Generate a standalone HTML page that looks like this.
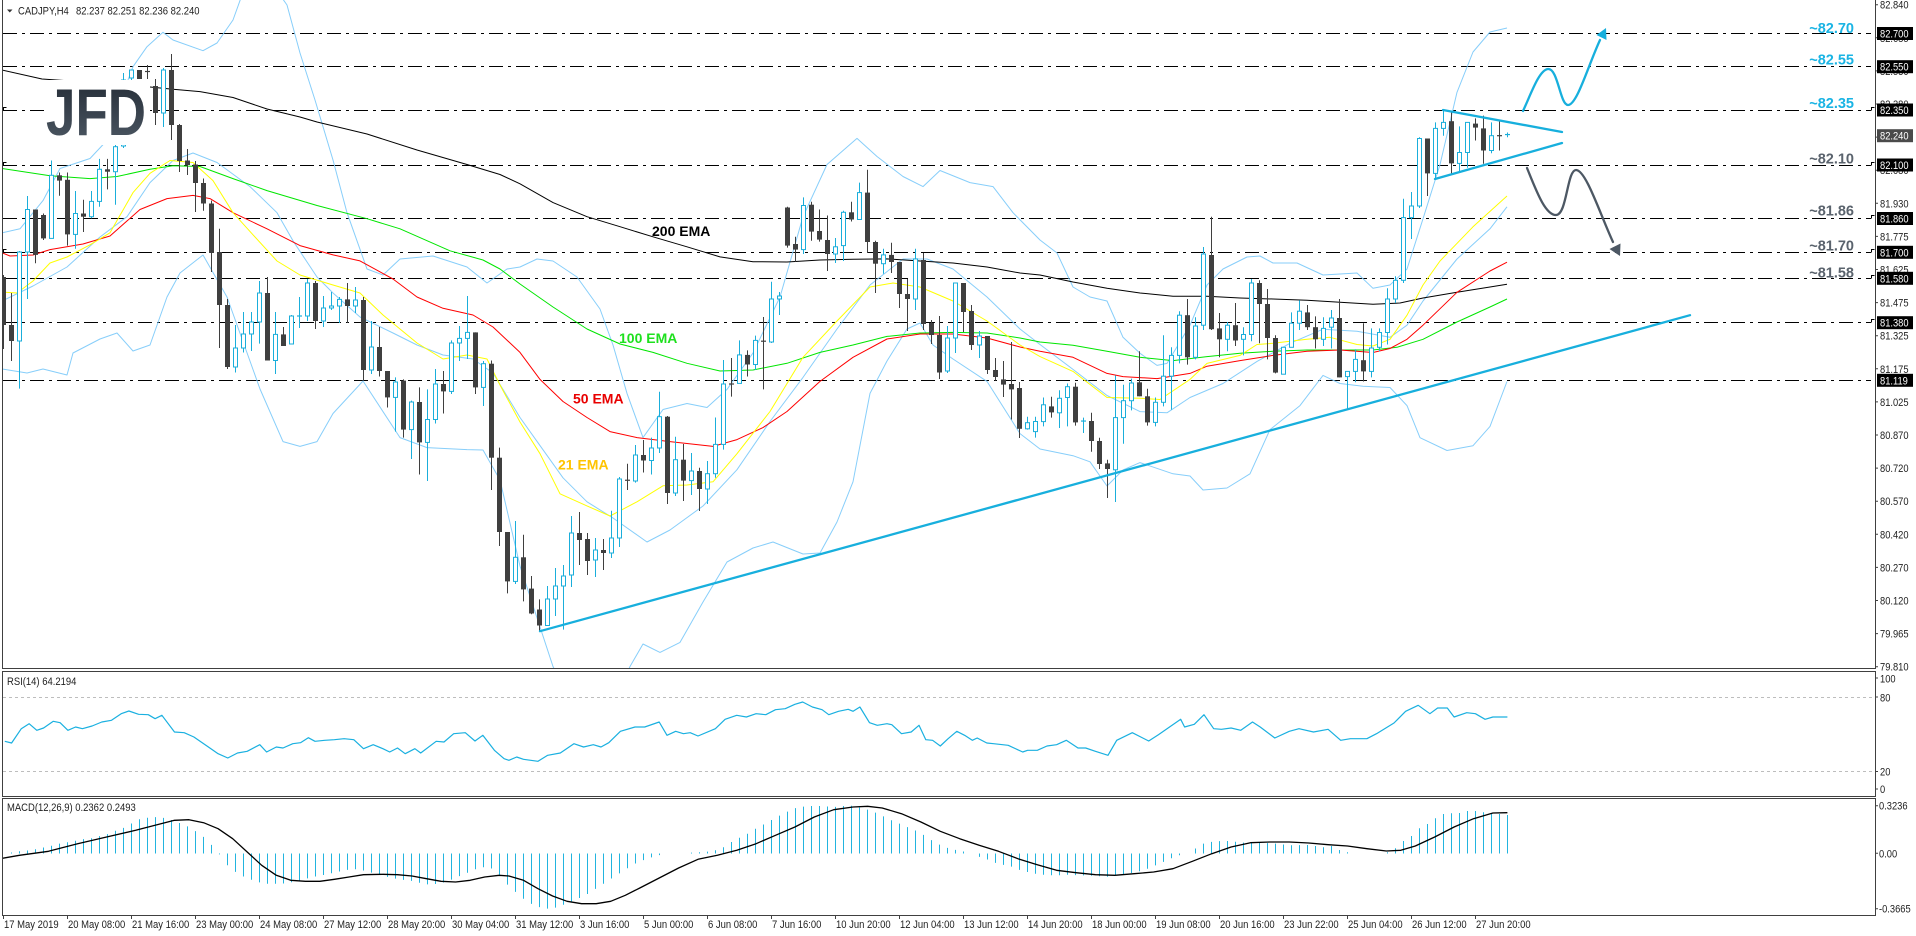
<!DOCTYPE html>
<html><head><meta charset="utf-8">
<style>
html,body{margin:0;padding:0;background:#fff;}
svg{display:block;font-family:"Liberation Sans",Arial,sans-serif;}
.ax{font-size:11px;fill:#222;}
.bx{font-size:11px;fill:#fff;}
.lv{font-size:14.5px;font-weight:bold;}
.em{font-size:14px;font-weight:bold;}
</style></head>
<body>
<svg id="s" width="1916" height="936" viewBox="0 0 1916 936" xmlns="http://www.w3.org/2000/svg">
<defs>
<clipPath id="cm"><rect x="3" y="0" width="1872" height="668"/></clipPath>
<clipPath id="cr"><rect x="3" y="672" width="1872" height="124"/></clipPath>
<clipPath id="cd"><rect x="3" y="799" width="1872" height="116"/></clipPath>
<linearGradient id="lg" x1="0" y1="0" x2="0" y2="1"><stop offset="0" stop-color="#222a34"/><stop offset="1" stop-color="#4f5a66"/></linearGradient>
</defs>
<rect width="1916" height="936" fill="#fff"/>

<!-- MAIN PANEL -->
<g clip-path="url(#cm)">
 <g stroke="#000" stroke-width="1" stroke-dasharray="14 5 3 5" fill="none">
  <line x1="3" x2="1871" y1="33.5" y2="33.5"/>
  <line x1="3" x2="1871" y1="66.5" y2="66.5"/>
  <line x1="3" x2="1871" y1="110.5" y2="110.5"/>
  <line x1="3" x2="1871" y1="165.5" y2="165.5"/>
  <line x1="3" x2="1871" y1="218.5" y2="218.5"/>
  <line x1="3" x2="1871" y1="252.5" y2="252.5"/>
  <line x1="3" x2="1871" y1="278.5" y2="278.5"/>
  <line x1="3" x2="1871" y1="322.5" y2="322.5"/>
  <line x1="3" x2="1871" y1="380.5" y2="380.5"/>
 </g>
 <g fill="none" stroke="#000" stroke-width="1">
  <path d="M1871.5,110.5 v-3 h3 M1871.5,165.5 v-3 h3 M1871.5,218.5 v-3 h3 M1871.5,252.5 v-3 h3 M1871.5,278.5 v-3 h3 M1871.5,322.5 v-3 h3 M3.5,110.5 v-3 h3 M3.5,165.5 v-3 h3 M3.5,252.5 v-3 h3"/>
 </g>
 <g fill="none" stroke-width="1" stroke-linejoin="round">
  <polyline stroke="#87cefa" points="2,232.8 20,228.8 43,200.6 60,168.5 90,158.5 107,140.4 128,80 133,66.7 147,46.7 163,32.3 173,40 203,50.7 217,43 233,20 242,-5 262,-40 280,-5 287,5 300,53 315,100 333,160 347,212.7 367,269 383,275 400,259 433,256 467,267 487,283 507,269 520,267 537,259 553,261 577,277 600,309 613,345 627,393.4 643,437.6 663,409.5 687,403.5 707,407.5 727,389.4 753,353 780,297 803,216.7 827,164.5 857,138.4 877,156.5 903,176.5 923,186.6 940,170.5 970,182.6 993,186.6 1013,212.7 1040,240 1057,253 1073,287 1090,297 1107,301 1123,337.3 1140,353.3 1157,365.4 1167,363.4 1190,325.2 1207,285 1223,269 1247,257 1260,256 1273,263 1297,263 1323,275 1357,273 1373,288.3 1390,285 1407,269 1423,218.8 1440,164.6 1457,92.3 1473,52 1490,32 1507,28"/>
  <polyline stroke="#87cefa" points="2,301 33,286 67,267 100,237 127,216.7 150,182.6 173,160.5 193,153 217,162.5 250,186.6 277,212.7 293,240.8 317,277 333,293 360,317 393,333 417,345 443,355 473,359 493,373 520,417.5 540,445.6 563,477.8 587,501.8 613,518 647,542 670,530 703,506 737,469.7 770,421.5 803,377.4 837,329 870,285 903,259 927,259 953,269 987,297 1020,329 1040,344.5 1073,369.4 1107,395.5 1140,411.6 1167,412.8 1190,397.5 1223,383.5 1257,361.4 1290,343.3 1323,329.2 1357,331.2 1390,337.3 1407,325.2 1423,301 1457,259 1490,228.8 1507,206.8"/>
  <polyline stroke="#87cefa" points="2,369 27,373 43,369 67,375 73,353 100,339 117,333 133,351 150,345 167,297 180,273 203,255 227,297 260,389 283,441.6 300,446.4 317,441.6 333,413.5 363,381 400,437.6 427,447.6 467,449.6 483,450 500,480 520,566 553,666.5 570,700 615,700 630,666.5 643,644 660,652.4 680,642.4 703,602 727,562 753,548 773,542 803,554 820,553 837,522 853,481.8 870,393.4 887,361 907,329 920,323 933,345 953,359 987,381.4 1020,433.6 1040,449 1073,455.7 1090,461.8 1107,486 1123,470 1140,462.6 1173,473.8 1190,476 1203,490 1227,488 1250,473.8 1270,429.6 1300,405.6 1323,375.4 1340,383.5 1363,386.3 1390,387.5 1407,405.6 1420,437.7 1447,450.5 1473,445.7 1490,426.4 1507,381.5"/>
  <polyline stroke="#000" points="2,70 42,79 100,83 150,87 173,89.3 200,91.6 233,97.5 267,109 300,117 317,122 367,134 417,150 467,164.5 500,174.5 520,183.8 553,202.6 587,216.7 620,226.7 653,236.8 687,246.8 720,256.9 753,261.7 787,262 820,260 853,259.3 887,258.9 920,261 953,263 987,267 1020,273 1040,275 1073,282 1107,288.3 1140,293 1173,296.3 1207,296.3 1240,298 1273,299 1307,300.3 1340,302.3 1373,304.3 1400,303 1423,298 1457,292.3 1490,287 1507,284.3"/>
  <polyline stroke="#00e600" points="2,168.5 50,175.7 90,178.6 117,176.5 150,169.3 173,165.7 200,166.5 233,178.6 267,190.6 317,205.5 367,218.7 400,228.8 450,250.8 483,260 500,269 520,284 553,307 587,329 620,344 653,352.4 687,363.3 720,371 753,370 787,363.3 820,352.4 853,345 887,336.4 920,333 953,332.4 987,333 1020,338 1040,342 1073,345.3 1107,351.3 1140,357.3 1173,360.6 1207,356.6 1240,353.3 1273,351.3 1307,350 1340,350 1373,350 1397,347.3 1423,339.3 1457,322 1490,307 1507,299"/>
  <polyline stroke="#ff0000" points="2,252.8 10,256 33,255 50,249.6 83,244 110,236 140,209.5 167,198.6 193,195.4 210,198.6 233,212.7 267,228.8 300,245.6 333,254.9 360,260.9 393,279 417,297 443,308.3 473,315 493,327 520,352.4 540,379.4 563,401.5 587,417.5 610,431.6 637,437.6 670,441.6 713,446.4 737,439.6 763,427.6 787,411.5 820,381.4 853,357.3 887,339 920,334 953,334 987,338 1020,347 1040,351.3 1073,357.3 1107,373.4 1123,376.6 1157,378.6 1190,373.4 1207,366.2 1240,360.6 1273,355.4 1307,351.3 1340,350 1373,352.5 1390,348.5 1407,339.3 1423,325.2 1457,292.3 1490,271 1507,262.2"/>
  <polyline stroke="#ffff00" points="2,292 17,293 33,281 50,263 67,257 90,244.8 110,232.8 133,192.6 150,173.3 170,160.5 193,162.5 213,180.6 233,212.7 253,234.8 277,261 300,275 333,285 360,293 383,315 417,343 443,359 467,355 487,359 500,385 520,422 540,453.7 560,493.8 587,505.9 610,516 637,501.8 663,485.8 687,485 713,481.8 737,453.7 770,411.5 803,357.3 837,321 870,287 893,283 920,287 953,301 987,321 1020,345 1040,356.6 1073,371.4 1107,397.5 1140,398.3 1160,399.5 1190,379.4 1207,363.4 1240,355.4 1257,344.5 1273,343.3 1307,339.3 1330,337.3 1357,344.5 1373,346 1390,339.3 1407,315.2 1423,285 1440,261 1473,226.8 1507,196"/>
 </g>
 <g id="cdl"></g>
 <g stroke="#17afdd" stroke-width="2.3" fill="none" stroke-linecap="round">
  <line x1="540" y1="631.2" x2="1690" y2="315.2"/>
  <line x1="1443" y1="110" x2="1562" y2="132"/>
  <line x1="1435" y1="179" x2="1562" y2="143"/>
  <path d="M1523,111 C1531,94 1539,70 1548,69 C1558,68 1560,105 1568,105 C1577,105 1588,66 1600,40"/>
 </g>
 <polygon points="1606,28 1606.5,40 1596.5,35" fill="#17afdd"/>
 <g stroke="#4d5864" stroke-width="2.3" fill="none" stroke-linecap="round">
  <path d="M1527,168 C1536,190 1545,215 1556,215 C1567,215 1567,170 1576,170 C1586,170 1600,214 1613,242"/>
 </g>
 <polygon points="1620,256 1620.5,243.5 1609.5,249" fill="#4d5864"/>
 <rect x="44" y="80" width="106" height="65" fill="#fff"/>
 <text x="46" y="135" font-size="66" font-weight="bold" textLength="100" lengthAdjust="spacingAndGlyphs" fill="url(#lg)">JFD</text>
</g>

<!-- EMA labels -->
<text class="em" x="652" y="236" fill="#000">200 EMA</text>
<text class="em" x="619" y="343" fill="#1ee01e">100 EMA</text>
<text class="em" x="573" y="403.5" fill="#e80000">50 EMA</text>
<text class="em" x="558" y="469.5" fill="#ffc400">21 EMA</text>

<!-- level labels -->
<g class="lv" text-anchor="end">
 <text x="1854" y="33" fill="#1ab4e4">~82.70</text>
 <text x="1854" y="64.5" fill="#1ab4e4">~82.55</text>
 <text x="1854" y="108" fill="#1ab4e4">~82.35</text>
 <text x="1854" y="163.5" fill="#5a636d">~82.10</text>
 <text x="1854" y="215.5" fill="#5a636d">~81.86</text>
 <text x="1854" y="250.5" fill="#5a636d">~81.70</text>
 <text x="1854" y="277.5" fill="#5a636d">~81.58</text>
</g>

<!-- title -->
<polygon points="7,9.5 12.5,9.5 9.75,12.5" fill="#333"/>
<text class="ax" transform="translate(18,14.7) scale(0.86,1)">CADJPY,H4</text>
<text class="ax" transform="translate(76,14.7) scale(0.86,1)">82.237 82.251 82.236 82.240</text>

<!-- frames -->
<g fill="none" stroke="#404040" stroke-width="1">
 <path d="M2.5,0 V668.5 H1875.5 V0"/>
 <rect x="2.5" y="671.5" width="1873" height="125"/>
 <rect x="2.5" y="798.5" width="1873" height="117"/>
</g>

<!-- right price axis -->
<g stroke="#404040" stroke-width="1">
 <path d="M1875,4.7h3M1875,37.8h3M1875,70.9h3M1875,104h3M1875,137.1h3M1875,170.2h3M1875,203.3h3M1875,236.4h3M1875,269.5h3M1875,302.6h3M1875,335.7h3M1875,368.8h3M1875,401.9h3M1875,435h3M1875,468.1h3M1875,501.2h3M1875,534.3h3M1875,567.4h3M1875,600.5h3M1875,633.6h3M1875,666.7h3M1875,678h3M1875,697h3M1875,771.5h3M1875,789h3M1875,805.7h3M1875,853.3h3M1875,908.7h3"/>
</g>
<g class="ax">
 <text transform="translate(1880,8.7) scale(0.85,1)">82.840</text>
 <text transform="translate(1880,41.8) scale(0.85,1)">82.685</text>
 <text transform="translate(1880,74.9) scale(0.85,1)">82.530</text>
 <text transform="translate(1880,108) scale(0.85,1)">82.380</text>
 <text transform="translate(1880,141.1) scale(0.85,1)">82.235</text>
 <text transform="translate(1880,174.2) scale(0.85,1)">82.080</text>
 <text transform="translate(1880,207.3) scale(0.85,1)">81.930</text>
 <text transform="translate(1880,240.4) scale(0.85,1)">81.775</text>
 <text transform="translate(1880,273.5) scale(0.85,1)">81.625</text>
 <text transform="translate(1880,306.6) scale(0.85,1)">81.475</text>
 <text transform="translate(1880,339.7) scale(0.85,1)">81.325</text>
 <text transform="translate(1880,372.8) scale(0.85,1)">81.175</text>
 <text transform="translate(1880,405.9) scale(0.85,1)">81.025</text>
 <text transform="translate(1880,439) scale(0.85,1)">80.870</text>
 <text transform="translate(1880,472.1) scale(0.85,1)">80.720</text>
 <text transform="translate(1880,505.2) scale(0.85,1)">80.570</text>
 <text transform="translate(1880,538.3) scale(0.85,1)">80.420</text>
 <text transform="translate(1880,571.4) scale(0.85,1)">80.270</text>
 <text transform="translate(1880,604.5) scale(0.85,1)">80.120</text>
 <text transform="translate(1880,637.6) scale(0.85,1)">79.965</text>
 <text transform="translate(1880,670.7) scale(0.85,1)">79.810</text>
 <text transform="translate(1880,682.3) scale(0.85,1)">100</text>
 <text transform="translate(1880,701.3) scale(0.85,1)">80</text>
 <text transform="translate(1880,775.7) scale(0.85,1)">20</text>
 <text transform="translate(1880,793) scale(0.85,1)">0</text>
 <text transform="translate(1879,809.7) scale(0.85,1)">0.3236</text>
 <text transform="translate(1879,857.3) scale(0.85,1)">0.00</text>
 <text transform="translate(1879,912.7) scale(0.85,1)">-0.3665</text>
</g>
<g>
 <rect x="1877" y="27" width="36" height="13" fill="#000"/>
 <rect x="1877" y="60.2" width="36" height="13" fill="#000"/>
 <rect x="1877" y="103.5" width="36" height="13" fill="#000"/>
 <rect x="1877" y="129.2" width="36" height="13" fill="#4a4a4a"/>
 <rect x="1877" y="158.5" width="36" height="13" fill="#000"/>
 <rect x="1877" y="212" width="36" height="13" fill="#000"/>
 <rect x="1877" y="245.8" width="36" height="13" fill="#000"/>
 <rect x="1877" y="271.8" width="36" height="13" fill="#000"/>
 <rect x="1877" y="316.2" width="36" height="13" fill="#000"/>
 <rect x="1877" y="373.8" width="36" height="13" fill="#000"/>
</g>
<g class="bx">
 <text transform="translate(1880,37.3) scale(0.85,1)">82.700</text>
 <text transform="translate(1880,70.7) scale(0.85,1)">82.550</text>
 <text transform="translate(1880,114) scale(0.85,1)">82.350</text>
 <text transform="translate(1880,139.7) scale(0.85,1)">82.240</text>
 <text transform="translate(1880,169) scale(0.85,1)">82.100</text>
 <text transform="translate(1880,222.5) scale(0.85,1)">81.860</text>
 <text transform="translate(1880,256.3) scale(0.85,1)">81.700</text>
 <text transform="translate(1880,282.3) scale(0.85,1)">81.580</text>
 <text transform="translate(1880,326.7) scale(0.85,1)">81.380</text>
 <text transform="translate(1880,384.3) scale(0.85,1)">81.119</text>
</g>

<!-- RSI -->
<g clip-path="url(#cr)">
 <g stroke="#bdbdbd" stroke-width="1" stroke-dasharray="3 3">
  <line x1="3" x2="1873" y1="697.5" y2="697.5"/>
  <line x1="3" x2="1873" y1="771.5" y2="771.5"/>
 </g>
 <polyline fill="none" stroke="#1ab0e0" stroke-width="1.2" stroke-linejoin="round" points="4.8,741.3 11.6,743 21.3,728.7 29.1,723.7 36.8,730.3 43.6,728 53.3,721.3 60.1,722.7 67.9,730.3 75.6,727 82.4,728.7 92.1,726 101.8,722 111.5,720.3 121.2,713.7 128.9,711 138.6,714.3 148.3,714.7 155.1,718.7 161.9,715.3 174.5,732 184.2,732.7 193.9,737 208.4,747 218.1,753.7 227.8,758 237.5,753 247.2,751.3 259.8,744.7 266.6,752 276.3,747 283,748 292.8,743.7 300.5,742.7 308.3,737.7 315,741.3 324.7,740.3 334.4,739.7 344.1,738.7 353.8,739.7 363.5,748.7 373.2,744.7 382.9,748.7 389.7,752 397.5,748 405.2,753.7 414.9,748.7 420.7,753 436.2,741.3 444,742 453.7,733.7 465.3,732.7 475,741 482.8,735.3 494.4,750.3 504.1,758.7 508.9,760.3 516.7,757 523.5,759.3 538,761.3 547.7,755.3 560.3,753 573.9,743.7 583.6,747 593.3,744.7 601,747 608.8,742.7 620.4,731.3 635,727 644.7,727 659.2,722 667,735.3 675.7,731.3 683.4,733.7 690.2,732.7 698,736 715.4,728.7 725.1,719.3 736.7,715.3 746.4,717 756.1,713.7 765.8,714.7 775.5,709.7 785.2,708.7 794.9,704.3 802.7,702 812.4,707 822.1,709.7 828.8,714.7 838.5,711.3 848.2,709.3 853.1,711.3 859.9,707 869.5,722.7 877.3,725.3 887,723.7 891.8,724.7 901.5,733.7 911.2,732 919,725.3 925.8,739.7 932.6,740.3 940.3,746 948.1,738.7 956.8,731.3 964.6,735.3 972.3,740.3 977.2,738 986.8,743 993.6,743.7 1008.2,745.3 1022.7,752 1027.6,750.3 1037.3,750.3 1047,746 1056.6,744.7 1066.3,740.3 1078,748 1085.7,748 1095.4,751.3 1108,755.3 1116.7,740.3 1132.3,732.7 1148.7,741 1158.4,734.7 1168.1,728 1180.7,719.3 1184.6,727 1194.3,724.3 1204,714.7 1213.7,728.7 1221.4,729.3 1231.1,728 1240.8,730.3 1252.5,722 1260.2,727 1274.8,738 1289.3,731.3 1299,728.7 1313.5,732 1328.1,729.3 1340.7,740.3 1350.4,738.7 1366.9,738.7 1376.5,733.7 1394,723 1405.6,711.3 1418.2,705.3 1429.9,713.7 1437.6,708 1447.3,708 1454.1,717 1466.7,712.7 1475.4,713.7 1485.1,719.3 1492.9,717 1507.4,717"/>
</g>
<text class="ax" transform="translate(7,685) scale(0.86,1)">RSI(14) 64.2194</text>

<!-- MACD -->
<g clip-path="url(#cd)">
 <g id="hist" stroke="#22b4df" stroke-width="1"></g>
 <polyline fill="none" stroke="#000" stroke-width="1.3" stroke-linejoin="round" points="0,858.7 19.4,855.3 48.5,851.3 77.6,843.7 106.6,837 135.7,830.3 155.1,825.3 174.5,820.3 189,819.7 203.6,822.7 218.1,828.7 232.7,838.7 247.2,852 261.7,865.3 276.3,875.3 290.8,880.3 305.4,881.3 319.9,881.3 334.4,879.3 349,877 363.5,874.7 382.9,874.3 397.5,874.7 412,876 426.5,878.7 441.1,881.3 455.6,882 470.2,880.3 484.7,877 499.2,875.3 508.9,876 523.5,880.3 538,888.7 552.6,896 567.1,901.3 581.6,903.7 596.2,903.7 610.7,901.3 625.3,895.3 639.8,888 659.2,878 678.6,868 698,859.3 717.4,855.3 736.8,850.3 756.1,843.7 775.5,835.3 794.9,827 814.3,817 833.7,809.7 853.1,807 867.6,806.3 882.2,808 901.5,813.7 920.9,822 940.3,831.3 959.7,838.7 979.1,845.3 998.5,851.3 1017.9,858.7 1037.3,864.7 1056.6,870.3 1076,872.7 1095.4,874.7 1114.8,875.3 1134.2,873.7 1153.6,872 1173,868.7 1192.4,861.3 1211.8,853.7 1231.1,847 1250.5,842.7 1269.9,842 1289.3,842 1308.7,843 1328.1,844.7 1347.5,846 1366.9,848.7 1386.3,851 1400.8,850.3 1415.3,846 1434.7,837 1454.1,827 1473.5,818.7 1492.9,813 1507.4,812.7"/>
</g>
<text class="ax" transform="translate(7,811) scale(0.86,1)">MACD(12,26,9) 0.2362 0.2493</text>

<!-- time axis -->
<g stroke="#404040" stroke-width="1">
 <path d="M3.5,915v4M67.5,915v4M131.5,915v4M195.5,915v4M259.5,915v4M323.5,915v4M387.5,915v4M451.5,915v4M515.5,915v4M579.5,915v4M643.5,915v4M707.5,915v4M771.5,915v4M835.5,915v4M899.5,915v4M963.5,915v4M1027.5,915v4M1091.5,915v4M1155.5,915v4M1219.5,915v4M1283.5,915v4M1347.5,915v4M1411.5,915v4M1475.5,915v4"/>
</g>
<g class="ax">
 <text transform="translate(4,928) scale(0.86,1)">17 May 2019</text>
 <text transform="translate(68,928) scale(0.86,1)">20 May 08:00</text>
 <text transform="translate(132,928) scale(0.86,1)">21 May 16:00</text>
 <text transform="translate(196,928) scale(0.86,1)">23 May 00:00</text>
 <text transform="translate(260,928) scale(0.86,1)">24 May 08:00</text>
 <text transform="translate(324,928) scale(0.86,1)">27 May 12:00</text>
 <text transform="translate(388,928) scale(0.86,1)">28 May 20:00</text>
 <text transform="translate(452,928) scale(0.86,1)">30 May 04:00</text>
 <text transform="translate(516,928) scale(0.86,1)">31 May 12:00</text>
 <text transform="translate(580,928) scale(0.86,1)">3 Jun 16:00</text>
 <text transform="translate(644,928) scale(0.86,1)">5 Jun 00:00</text>
 <text transform="translate(708,928) scale(0.86,1)">6 Jun 08:00</text>
 <text transform="translate(772,928) scale(0.86,1)">7 Jun 16:00</text>
 <text transform="translate(836,928) scale(0.86,1)">10 Jun 20:00</text>
 <text transform="translate(900,928) scale(0.86,1)">12 Jun 04:00</text>
 <text transform="translate(964,928) scale(0.86,1)">13 Jun 12:00</text>
 <text transform="translate(1028,928) scale(0.86,1)">14 Jun 20:00</text>
 <text transform="translate(1092,928) scale(0.86,1)">18 Jun 00:00</text>
 <text transform="translate(1156,928) scale(0.86,1)">19 Jun 08:00</text>
 <text transform="translate(1220,928) scale(0.86,1)">20 Jun 16:00</text>
 <text transform="translate(1284,928) scale(0.86,1)">23 Jun 22:00</text>
 <text transform="translate(1348,928) scale(0.86,1)">25 Jun 04:00</text>
 <text transform="translate(1412,928) scale(0.86,1)">26 Jun 12:00</text>
 <text transform="translate(1476,928) scale(0.86,1)">27 Jun 20:00</text>
</g>
</svg>
<script>
(function(){
var NS="http://www.w3.org/2000/svg";
function el(p,t,a){var e=document.createElementNS(NS,t);for(var k in a)e.setAttribute(k,a[k]);p.appendChild(e);return e;}
var C=[[0,277,325,275,349],[0,325,341,293,361],[1,252,341,251,388.6],[1,209.5,252,196,299],[0,209.5,254.9,209.5,263.3],[0,215,238.4,213.5,240],[1,175.3,238.4,160.5,238.4],[0,175.3,180.6,172.5,195.8],[0,179.8,234.4,172.5,245.6],[1,213.5,234.4,191,248.8],
[0,213.5,216.7,199.8,232],[1,201.4,216.7,191,218.3],[1,169.3,201.4,158.9,206.7],[0,169.3,171.7,158.9,189.4],[1,146.7,171.7,140,204.7],[1,80,146,73,148],[1,70,78,70,86],[0,70,79,70,79],[0,71,72,65,79],[0,86,113,79,125],
[1,70,113,68,127],[0,70,125,54,140],[0,125,161,124,172],[0,160.5,165,149,175],[0,164.5,183,161,212],[0,183,203.5,178.5,210.7],[0,203.5,253,200.6,272],[0,252,305,228.8,348],[0,305,367,299,369],[1,348,367,325,372.5],
[1,334,348,312,352.5],[1,322,334,312,351],[1,293,322,281,343.6],[0,293,360.5,277,360.5],[1,334.4,360.5,312,374],[0,334.4,346,327,346],[1,316,344,315,344],[1,315.5,316.5,297,328],[1,283,316,279,321],[0,283,321,281,329],
[1,308,321,296,327],[1,306,308,292,310],[1,299.4,306,297,323],[0,299.4,306,283,323],[1,300,306,287,313],[0,300,370,297,380.6],[1,347,370,321,374],[0,347,371,327,376.5],[0,371,397.4,371,407.5],[1,382,397.4,377.4,431.6],
[0,380.6,429.6,379.4,437.6],[1,402,429.6,400.6,459],[0,402,442.4,387.4,474.5],[1,419.5,442.4,389.4,481],[1,384,419.5,369,423.5],[0,384,391.4,371,413.5],[1,343,391.4,340.4,394],[1,338.4,343,326,361],[1,332.4,338.4,296,359],[0,332.4,387.4,332.4,394],
[1,363.7,387.4,361,406],[0,363.7,457.7,360.5,490],[0,457.7,532,447.6,546],[0,532,581.4,532,593.4],[1,557.3,581.4,521,584],[0,557.3,589.4,534.8,601.4],[0,588.6,613.5,576,614.3],[0,609.5,625.5,599.4,631],[1,599,625.5,586,626],[1,586,599,568,616],
[1,576,586,565,629.6],[1,533,575,516,587],[0,533,540,512,565],[0,539,561,533,575],[1,550,560,538,577],[0,550,553,539,570],[1,538,553,510.7,558],[1,479,538,477,547],[0,479.5,481,463.7,490],[1,455,481,445,482.6],
[0,455,460.5,440,472.5],[1,448,460.5,437.6,474.5],[1,416.7,448,391.8,453],[0,416.7,493,416,504],[1,459.7,493,436.8,496],[0,459.7,480.6,444,501],[1,471,480.6,453,495],[0,471,489,467.7,511],[1,473.7,489,461,504],[1,444.4,473.7,417.5,477.8],
[1,384,444.4,360,449.6],[0,383.4,384.6,358,396.6],[1,354.9,383.4,340.4,383.4],[0,354.9,364.5,350.4,376.5],[1,340.4,364.5,335.6,370],[0,340.4,342,317,389.4],[1,299,342,281.8,343],[1,296,299,292,315],[0,207.5,245.6,206.7,247.6],[0,244,249.6,236.8,261.7],
[1,205.5,249.6,197.4,254],[0,204.7,231.6,201.8,240.8],[0,231,239.6,209.5,241.6],[0,240,254,215.5,271],[1,246.8,254,238,263],[1,212.3,245.6,210.7,261],[0,212.3,219.5,201.8,221.5],[1,192.6,219.5,182.6,219.5],[0,192.6,242,169.7,252.9],[0,242,263.7,240.8,293],
[1,254.9,263.7,248.8,273.7],[0,254.9,262,242.8,273],[0,262,294,262,308],[0,294,299,279,331],[1,258.9,299,248.8,310],[0,260,324,252.9,330],[0,323,335,320,344],[0,335,372.5,316,379],[1,338,371,326,373],[1,283,338,283,353],
[0,283,312,283,332],[0,311,345,305,350],[1,336,345,331,358],[0,336,370,336,374],[0,370,377,358,380.6],[0,379.4,384.6,361,397],[0,384,389.4,342,419.5],[0,388,428.8,382,438],[1,422.7,428.8,416.7,429.6],[1,421.5,431.6,416.7,437.6],
[1,404.8,421.6,397.5,426.4],[0,406.4,412.4,396.7,417.6],[1,398.3,412.8,390.3,428],[1,386.7,397.5,383.5,426.4],[0,386.7,422.4,382.7,425.6],[1,420.5,421.6,417.6,433],[0,421,441,412.8,451.7],[0,441,464,437.7,469],[0,463.4,469,459.8,498],[1,417.6,469.8,375.4,502],
[1,400.7,417.6,384.7,443.7],[1,383,400.7,378.6,410.4],[0,382.3,396.3,351.3,396.3],[0,396.3,422.4,388.7,425.6],[1,402.3,422.4,397.5,426.4],[1,376.2,402.3,335.3,406.4],[1,355.4,376.2,347.3,409.6],[1,315.2,355.4,311.2,363.4],[0,315.2,357.3,299,364.6],[1,326,357.3,317.2,359.4],
[1,254,325.2,247,330],[0,255,329.2,216.8,330],[0,328.4,339.3,313,357.3],[1,325.2,339.3,322,351.3],[0,325.2,340.5,303,346],[1,334.5,339.3,327.2,355.4],[1,283,334.5,279,341.3],[0,283,304,280.3,343.3],[0,304,338,289,359.4],[0,338,372.6,335.3,373.4],
[1,347.3,374.2,347.3,374.2],[1,323.2,347.3,312.4,347.3],[1,311.2,323.2,300.3,330],[0,312.4,327.2,305,330],[0,327.2,339.3,316.4,348.5],[1,328.4,339.3,317.2,346],[1,318,327.2,310,348.5],[0,318,377.4,299,377.4],[1,371.4,376.6,371.4,409.6],[1,359.4,371.4,349.3,382.3],
[0,360.2,371.4,323.2,381.5],[1,348,371.4,328.4,377.4],[1,332.5,347.3,328.4,351.3],[1,299,332.5,288.3,344.5],[1,280.3,299,276.2,303],[1,217.6,280.3,198.7,283],[1,206,217.6,192,239],[1,138.5,206,137.3,208],[0,138.5,173.4,138.5,196],[1,128.4,173.4,122.4,179.8],
[1,122.4,128.4,109.2,135.7],[0,121.2,163.4,111.6,174.6],[1,152.5,163.4,126.4,171.8],[1,122.4,152.5,122.4,167.8],[0,123.6,127.6,118.4,140.5],[0,128.4,150.5,115.6,163.8],[1,135.7,150.5,122.4,153.3],[0,134.9,136.5,119.6,150.5],[1,134.3,134.8,132.5,137.3]];
var g=document.getElementById('cdl');
var CY='#1aaedb',DK='#3f3f3f';
for(var i=0;i<C.length;i++){var c=C[i];var x=3.5+8*i;var col=c[0]?CY:DK;
 el(g,'line',{x1:x,x2:x,y1:c[3],y2:c[4],stroke:col,'stroke-width':1});
 var h=c[2]-c[1];
 if(h<1.8){var ym=(c[1]+c[2])/2;el(g,'line',{x1:x-2.5,x2:x+2.5,y1:ym,y2:ym,stroke:col,'stroke-width':1.2});}
 else if(c[0]){el(g,'rect',{x:x-2,y:c[1],width:4,height:h,fill:'#fff',stroke:col,'stroke-width':1});}
 else{el(g,'rect',{x:x-2.5,y:c[1],width:5,height:h,fill:col});}
}
var E=[[3.5,853],[11.5,852.5],[19.4,851.3],[29.1,850.3],[38.8,848.7],[45.6,847],[53.3,845.3],[63,842.7],[69.8,842],[77.6,840.3],[85.3,838.7],[94,838],[101.8,835.3],[109.5,833.7],[116.3,830.3],[126,827],[133.8,822],[140.6,818.7],[148.3,817.7],[157,817],[164.8,818],[172.6,820.3],[181.3,823.7],[189,827],[196.8,832],[203.6,837],[211.3,844.7],[219,853.7],[226.8,864.7],[234.6,871.3],[242.4,876],[250.1,879.3],[257.9,882],[266.6,883.7],[274.3,883.7],[282.1,883.7],[288.9,882.7],[296.6,881.3],[306.3,878.7],[313.1,877],[321.8,875.3],[329.6,873.7],[337.4,872],[344.1,870.3],[351.9,869.3],[359.6,869.3],[368.4,872],[376.1,873.7],[383.9,876],[391.6,878],[399.4,879.3],[407.1,880.3],[414.9,881.3],[422.7,883.7],[430.4,884.7],[438.2,883.7],[445.9,882],[453.7,878.7],[461.4,875.3],[469.2,872],[476.9,868.7],[484.7,867],[492.5,868.7],[500.2,875.3],[508,885.3],[515.7,892],[523.5,898.7],[531.2,903.7],[539,907],[546.7,908.7],[554.5,908],[562.3,905.3],[570,902],[577.8,898.7],[585.5,895.3],[593.3,890.3],[601,885.3],[608.8,880.3],[616.5,875.3],[624.3,870.3],[632,865.3],[639.8,861.3],[647.6,858.7],[655.3,856],[663.1,854.3],[670.8,854],[678.6,853.3],[698,852.3],[712.5,851.3],[725.1,846.7],[731.9,841.7],[741.6,836.7],[748.4,833.3],[756.1,828.3],[763.9,824.3],[771.6,820],[779.4,815.7],[787.2,811.7],[794.9,808.3],[802.7,806.7],[810.4,806],[818.2,806],[825.9,806.3],[833.7,807],[841.4,806.3],[849.2,805.3],[857,807],[864.7,808.7],[872.5,811.3],[880.2,814.7],[888,818.7],[895.7,822],[903.5,825.3],[911.2,828.7],[919,832],[926.7,837],[934.5,842],[942.3,846],[950,848.7],[957.8,850.3],[965.5,852],[973.3,854.3],[979,856.7],[988.8,860],[996.6,863.3],[1004.3,865],[1012,866.7],[1019.8,870],[1027.6,872],[1035.3,873.7],[1043.1,874.7],[1050.8,875.3],[1058.6,875.3],[1066.3,874.7],[1097.4,876],[1105.1,877],[1112.9,876],[1120.6,874.7],[1128.4,873.7],[1136.1,872],[1143.9,870.3],[1151.7,867],[1159.4,863.7],[1167.2,860.3],[1174.9,856.7],[1182.7,854.3],[1190.4,852],[1198.2,846.7],[1205.9,842.3],[1213.7,841.7],[1221.4,841],[1229.2,841],[1244.7,842.7],[1260.2,842.7],[1275.7,843.7],[1291.2,845.3],[1307.5,845],[1315.5,846],[1323.5,847.3],[1331.5,846],[1339.5,850],[1347.5,852.3],[1355.5,853.3],[1363.5,853.3],[1371.5,853.3],[1379.5,853.5],[1387.5,852.3],[1395.5,848.3],[1403.5,841],[1411.5,836],[1419.5,828.3],[1427.5,824],[1435.5,818.3],[1443.5,814],[1451.5,813.3],[1459.5,813],[1467.5,811],[1475.5,811],[1483.5,812.3],[1491.5,814],[1499.5,814],[1507.5,815]];
function itp(a,x){if(x<=a[0][0])return a[0][1];for(var k=1;k<a.length;k++){if(x<=a[k][0]){var p=a[k-1],q=a[k];return p[1]+(q[1]-p[1])*(x-p[0])/(q[0]-p[0]);}}return a[a.length-1][1];}
var hg=document.getElementById('hist');var z=853.5;
for(var j=0;j<189;j++){var xx=3.5+8*j;var yy=itp(E,xx);if(Math.abs(yy-z)>0.7){el(hg,'line',{x1:xx,x2:xx,y1:z,y2:yy});}}
})();
</script>
</body></html>
